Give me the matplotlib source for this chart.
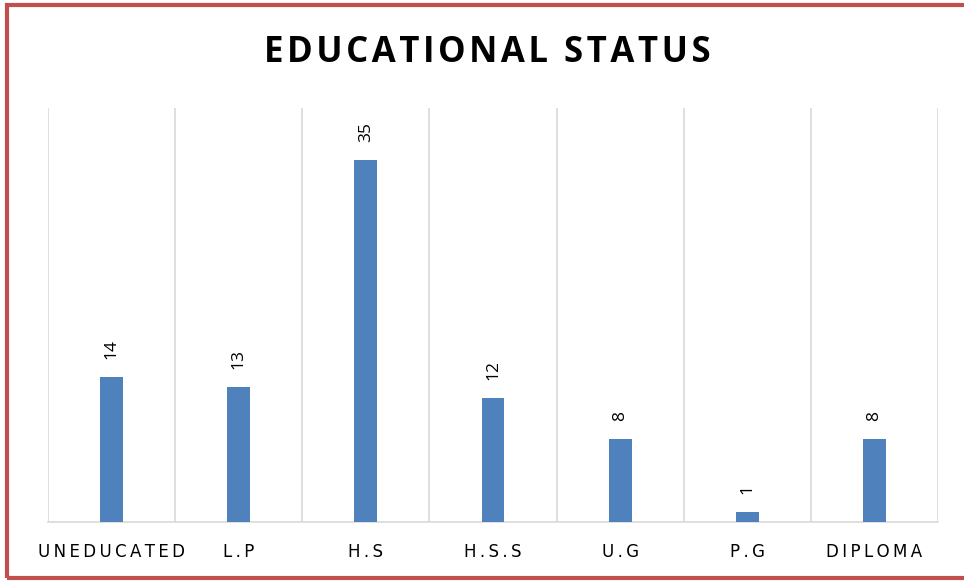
import matplotlib
matplotlib.use("Agg")
import matplotlib.pyplot as plt
from matplotlib.patches import Rectangle

categories = ["UNEDUCATED", "L.P", "H.S", "H.S.S", "U.G", "P.G", "DIPLOMA"]
values = [14, 13, 35, 12, 8, 1, 8]

W, H = 964, 581
fig = plt.figure(figsize=(W / 100, H / 100), dpi=100)
fig.patch.set_facecolor("white")

# outer border
fig.add_artist(Rectangle((7 / W, 1 - 578 / H), (W + 20) / W, (578 - 5) / H,
                         transform=fig.transFigure, fill=False,
                         edgecolor="#C0504D", linewidth=3.0, clip_on=False))

ax = fig.add_axes([48 / W, 1 - 522 / H, 890 / W, 414 / H])
x = list(range(len(categories)))
ax.bar(x, values, width=0.18, color="#4F81BD", zorder=3)
ax.set_xlim(-0.5, len(categories) - 0.5)
ax.set_ylim(0, 40)

for i, v in zip(x, values):
    ax.annotate(str(v), (i, v), xytext=(0, 13), textcoords="offset points",
                rotation=90, ha="center", va="bottom", fontsize=12.5,
                family="Open Sans", color="#000000")

# vertical separators
for b in range(len(categories) + 1):
    ax.axvline(b - 0.5, color="#D9D9D9", linewidth=1.2, zorder=1)

for s in ["top", "left", "right"]:
    ax.spines[s].set_visible(False)
ax.spines["bottom"].set_color("#D9D9D9")
ax.spines["bottom"].set_linewidth(1.2)
ax.set_yticks([])
ax.set_xticks(x)
ax.set_xticklabels(["\u2009".join(list(c)) for c in categories],
                   fontsize=12, family="DejaVu Sans", color="#000000")
ax.tick_params(axis="x", length=0, pad=15)

title = "EDUCATIONAL STATUS"
fig.text(487 / W, 1 - 53 / H, "\u200a".join(list(title)), ha="center", va="center",
         fontsize=25, fontweight="bold", family=["Open Sans", "DejaVu Sans"],
         color="#000000")

fig.savefig("out.png", dpi=100)
